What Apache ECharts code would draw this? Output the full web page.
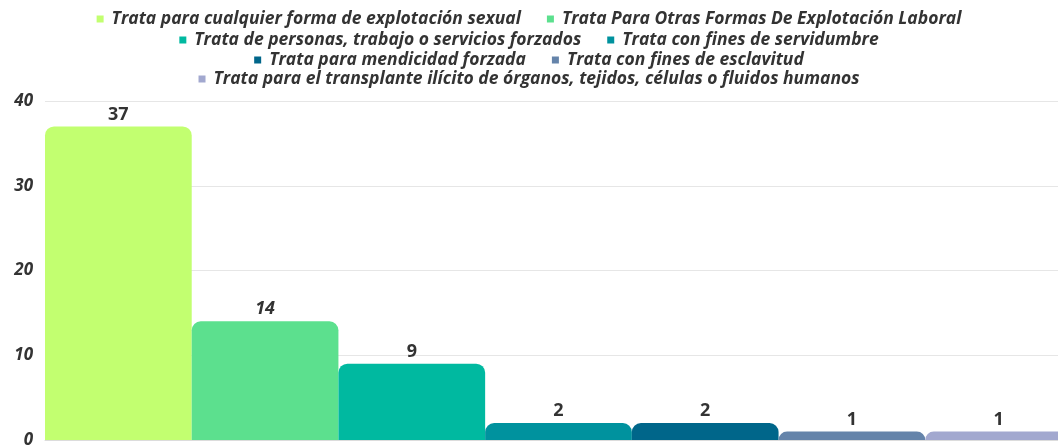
<!DOCTYPE html>
<html>
<head>
<meta charset="utf-8">
<script src="https://cdn.jsdelivr.net/npm/echarts@6/dist/echarts.min.js"></script>
<style>
  html, body { margin: 0; padding: 0; background: #fff; }
  #chart { width: 1058px; height: 445px; }
</style>
</head>
<body>
<div id="chart"></div>
<script>
// ── Data ─────────────────────────────────────────────────────────────
const CATEGORIES = ['Trata'];
const SERIES_NAMES = [
  'Trata para cualquier forma de explotación sexual',
  'Trata Para Otras Formas De Explotación Laboral',
  'Trata de personas, trabajo o servicios forzados',
  'Trata con fines de servidumbre',
  'Trata para mendicidad forzada',
  'Trata con fines de esclavitud',
  'Trata para el transplante ilícito de órganos, tejidos, células o fluidos humanos'
];
const SERIES_VALUES = [37, 14, 9, 2, 2, 1, 1];
const Y_TICKS = [0, 10, 20, 30, 40];

// ── Styles ───────────────────────────────────────────────────────────
const COLORS = ['#c2ff70', '#5ce08e', '#00b9a0', '#00929e', '#00668a', '#6584aa', '#a2a8cf'];
const FONT = '"Open Sans", "DejaVu Sans", sans-serif';
const TEXT = '#333';

// legend rows as in the original layout
const LEGEND_ROWS = [[0, 1], [2, 3], [4, 5], [6]];
const LEGEND_TOPS = [10, 31, 51, 70];

const legends = LEGEND_ROWS.map((row, i) => ({
  top: LEGEND_TOPS[i],
  left: 'center',
  data: row.map(k => SERIES_NAMES[k]),
  icon: 'rect',
  itemWidth: 7,
  itemHeight: 7,
  itemGap: 26,
  padding: 0,
  textStyle: {
    fontFamily: FONT, fontSize: 17.5, fontWeight: 'bold',
    fontStyle: 'italic', color: TEXT, padding: [0, 0, 0, 3]
  }
}));

const series = SERIES_NAMES.map((name, i) => ({
  name,
  type: 'bar',
  data: [SERIES_VALUES[i]],
  barGap: '0%',
  barCategoryGap: '0%',
  itemStyle: { color: COLORS[i], borderRadius: [9, 9, 0, 0] },
  label: {
    show: true,
    position: 'top',
    distance: 3,
    fontFamily: FONT,
    fontSize: 18,
    fontWeight: 'bold',
    fontStyle: i === 1 ? 'italic' : 'normal',
    color: TEXT
  }
}));

const chart = echarts.init(document.getElementById('chart'), null, { renderer: 'canvas' });
chart.setOption({
  animation: false,
  legend: legends,
  // the original plot runs past the right edge of the picture
  grid: { left: 45, right: -14, top: 101, bottom: 5, containLabel: false, outerBoundsMode: 'none' },
  xAxis: {
    type: 'category',
    data: CATEGORIES,
    axisTick: { show: false },
    axisLabel: { show: false },
    axisLine: { lineStyle: { color: '#dcdcdc', width: 1 } }
  },
  yAxis: {
    type: 'value',
    min: Y_TICKS[0],
    max: Y_TICKS[Y_TICKS.length - 1],
    interval: 10,
    axisLabel: {
      margin: 12,
      fontFamily: FONT, fontSize: 17, fontWeight: 'bold',
      fontStyle: 'italic', color: TEXT
    },
    splitLine: { lineStyle: { color: '#e6e6e6', width: 1 } }
  },
  series
});
</script>
</body>
</html>
